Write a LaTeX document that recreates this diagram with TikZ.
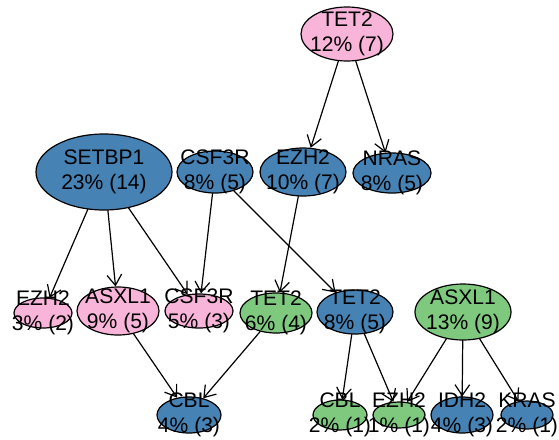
\documentclass[tikz,border=0pt]{standalone}
\usepackage{fontspec}
\setmainfont{Liberation Sans}
\usetikzlibrary{shapes.geometric, arrows.meta}
\definecolor{vpink}{RGB}{248,180,217}
\definecolor{vblue}{RGB}{70,130,180}
\definecolor{vgreen}{RGB}{127,201,127}
\tikzset{
	vertex/.style={ellipse, draw=black, line width=0.9pt, inner sep=0pt},
	rad/.style 2 args={minimum width=#1*1.5pt, minimum height=#2*1.5pt},
	lbl/.style={align=center, inner sep=0pt, font=\fontsize{15.8pt}{18.75pt}\selectfont},
	link/.style={-{Straight Barb[length=8pt, width=11pt]}, line width=0.9pt}
}
\begin{document}
\begin{tikzpicture}[x=0.75pt, y=-0.75pt, line cap=round, line join=round]
	\useasboundingbox (0, 0) rectangle (559, 439);
	% First layer
	\node [vertex, fill=vpink, rad={46}{27}] (node-1-1) at (347, 34) {};
	% Second layer
	\node [vertex, fill=vblue, rad={68}{38}] (node-2-1) at (104, 172) {};
	\node [vertex, fill=vblue, rad={38}{21}] (node-2-2) at (215, 172) {};
	\node [vertex, fill=vblue, rad={43}{24}] (node-2-3) at (303, 172) {};
	\node [vertex, fill=vblue, rad={39}{20}] (node-2-4) at (392, 173) {};
	% Third layer
	\node [vertex, fill=vpink, rad={29}{15}] (node-3-1) at (43, 313) {};
	\node [vertex, fill=vpink, rad={41}{24}] (node-3-2) at (118, 311) {};
	\node [vertex, fill=vpink, rad={34}{17}] (node-3-3) at (199, 311) {};
	\node [vertex, fill=vgreen, rad={36}{20}] (node-3-4) at (276, 313) {};
	\node [vertex, fill=vblue, rad={38}{22}] (node-3-5) at (355, 312) {};
	\node [vertex, fill=vgreen, rad={48}{28}] (node-3-6) at (463, 312) {};
	% Fourth layer
	\node [vertex, fill=vblue, rad={32}{18}] (node-4-1) at (189, 415) {};
	\node [vertex, fill=vgreen, rad={27}{15}] (node-4-2) at (340, 415) {};
	\node [vertex, fill=vgreen, rad={26}{13}] (node-4-3) at (399, 415) {};
	\node [vertex, fill=vblue, rad={31}{18}] (node-4-4) at (462, 415) {};
	\node [vertex, fill=vblue, rad={26}{14}] (node-4-5) at (527, 415) {};
	% First layer arrows
	\foreach \a in {3, 4}
		\draw [link] (node-1-1) -- (node-2-\a);
	% Second layer arrows
	\foreach \a in {1, 2, 3}
		\draw [link] (node-2-1) -- (node-3-\a);
	\foreach \a in {3, 5}
		\draw [link] (node-2-2) -- (node-3-\a);
	\draw [link] (node-2-3) -- (node-3-4);
	% Third layer arrows
	\foreach \a in {2, 4}
		\draw [link] (node-3-\a) -- (node-4-1);
	\foreach \a in {2, 3}
		\draw [link] (node-3-5) -- (node-4-\a);
	\foreach \a in {3, 4, 5}
		\draw [link] (node-3-6) -- (node-4-\a);
	% Labels
	\foreach \v/\t in {1-1/{TET2\\12\% (7)}, 2-1/{SETBP1\\23\% (14)}, 2-2/{CSF3R\\8\% (5)},
			2-3/{EZH2\\10\% (7)}, 2-4/{NRAS\\8\% (5)}, 3-1/{EZH2\\3\% (2)}, 3-2/{ASXL1\\9\% (5)},
			3-3/{CSF3R\\5\% (3)}, 3-4/{TET2\\6\% (4)}, 3-5/{TET2\\8\% (5)}, 3-6/{ASXL1\\13\% (9)},
			4-1/{CBL\\4\% (3)}, 4-2/{CBL\\2\% (1)}, 4-3/{EZH2\\1\% (1)}, 4-4/{IDH2\\4\% (3)},
			4-5/{KRAS\\2\% (1)}}
		\node [lbl] (label-\v) at (node-\v) {\t};
\end{tikzpicture}
\end{document}
